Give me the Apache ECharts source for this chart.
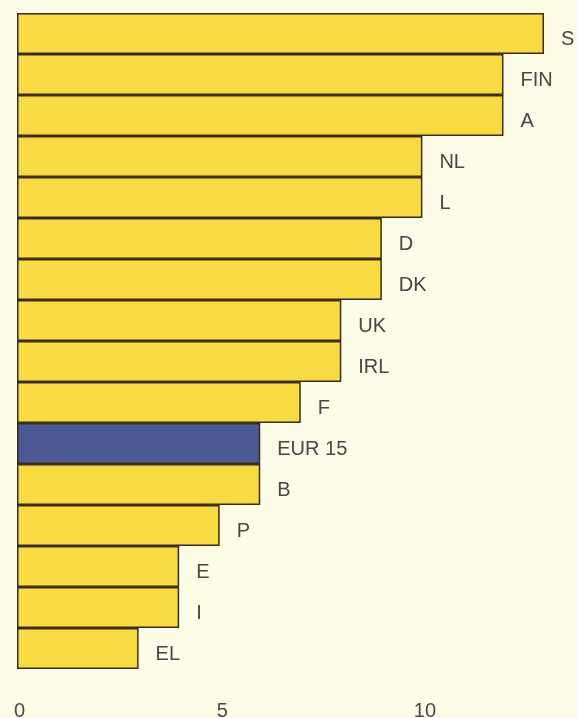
<!DOCTYPE html>
<html>
<head>
<meta charset="utf-8">
<style>
  html, body { margin: 0; padding: 0; background: #fcfce7; }
  #chart { width: 577px; height: 718px; }
</style>
<script src="https://cdn.jsdelivr.net/npm/echarts@6/dist/echarts.min.js"></script>
</head>
<body>
<div id="chart"></div>
<script>
// Countries, top to bottom
const categories = ['S', 'FIN', 'A', 'NL', 'L', 'D', 'DK', 'UK', 'IRL', 'F', 'EUR 15', 'B', 'P', 'E', 'I', 'EL'];
const values = [13, 12, 12, 10, 10, 9, 9, 8, 8, 7, 6, 6, 5, 4, 4, 3];
const highlight = 'EUR 15';
const tickValues = [0, 5, 10];

const yellow = '#f8db42';
const blue = '#4a5894';
const textFont = 'Liberation Sans, Arial, sans-serif';

const chart = echarts.init(document.getElementById('chart'));
chart.setOption({
  backgroundColor: '#fcfce7',
  animation: false,
  grid: {
    left: 17, right: 33, top: 13, bottom: 49,
    containLabel: false,
    outerBoundsMode: 'none'
  },
  xAxis: {
    type: 'value',
    min: 0,
    max: 13,
    interval: 5,
    axisLine: { show: false },
    axisTick: { show: false },
    splitLine: { show: false },
    axisLabel: {
      margin: 32,
      fontSize: 20,
      color: '#4a4a4a',
      fontFamily: textFont,
      padding: [0, 0, 0, 5],
      formatter: v => tickValues.includes(v) ? String(v) : ''
    }
  },
  yAxis: {
    type: 'category',
    inverse: true,
    data: categories,
    axisLine: { show: false },
    axisTick: { show: false },
    axisLabel: { show: false }
  },
  series: [{
    type: 'bar',
    barCategoryGap: 0,
    data: values.map((v, i) => ({
      value: v,
      itemStyle: { color: categories[i] === highlight ? blue : yellow }
    })),
    itemStyle: { borderColor: '#3b2c1c', borderWidth: 1.5 },
    label: {
      show: true,
      position: 'right',
      distance: 17,
      offset: [0, 6],
      fontSize: 20,
      color: '#474747',
      fontFamily: textFont,
      formatter: p => categories[p.dataIndex]
    }
  }]
});
</script>
</body>
</html>
